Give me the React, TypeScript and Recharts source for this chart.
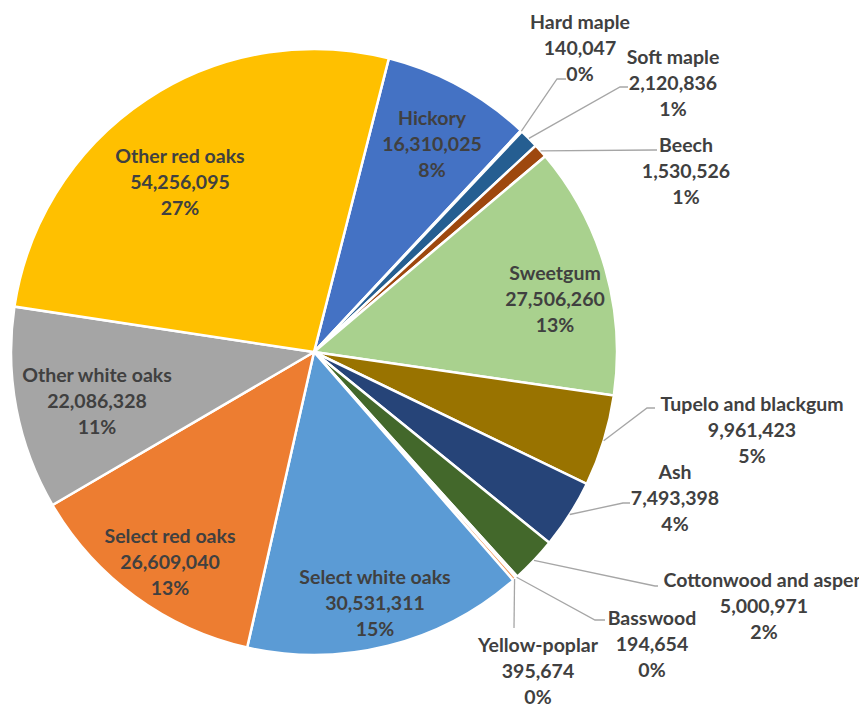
import React from "react";
import { PieChart, Pie, Cell } from "recharts";

const species = [
  "Hickory",
  "Hard maple",
  "Soft maple",
  "Beech",
  "Sweetgum",
  "Tupelo and blackgum",
  "Ash",
  "Cottonwood and aspen",
  "Basswood",
  "Yellow-poplar",
  "Select white oaks",
  "Select red oaks",
  "Other white oaks",
  "Other red oaks",
];

const volumes = [
  16310025, 140047, 2120836, 1530526, 27506260, 9961423, 7493398, 5000971,
  194654, 395674, 30531311, 26609040, 22086328, 54256095,
];

const sliceColors = [
  "#4472C4", "#636363", "#255E91", "#9E480E", "#A9D18E", "#997300", "#264478",
  "#43682B", "#698ED0", "#F1975A", "#5B9BD5", "#ED7D31", "#A5A5A5", "#FFC000",
];

// where each label sits, as offsets of its middle line from the pie centre;
// outside labels also get a leader line through elbow -> end
type Spot = { dx: number; dy: number; elbow?: [number, number]; end?: [number, number] };
const labelSpots: Spot[] = [
  { dx: 118, dy: -209 },
  { dx: 266, dy: -305, elbow: [243, -273], end: [252, -273] },
  { dx: 359, dy: -270, elbow: [306, -265], end: [314, -265] },
  { dx: 372, dy: -182, elbow: [341, -202], end: [343, -202] },
  { dx: 241, dy: -54 },
  { dx: 438, dy: 77, elbow: [333, 56], end: [341, 56] },
  { dx: 361, dy: 145, elbow: [309, 151], end: [316, 151] },
  { dx: 450, dy: 253, elbow: [341, 234], end: [344, 234] },
  { dx: 338, dy: 291, elbow: [281, 268], end: [291, 268] },
  { dx: 224, dy: 318, elbow: [200, 276], end: [200, 276] },
  { dx: 61, dy: 250 },
  { dx: -144, dy: 209 },
  { dx: -217, dy: 48 },
  { dx: -134, dy: -171 },
];

const data = species.map((name, i) => ({ name, value: volumes[i] }));

const RADIAN = Math.PI / 180;
const LINE_GAP = 26;

const renderLabel = (props: any) => {
  const { cx, cy, midAngle, outerRadius, index, percent, value } = props;
  const spot = labelSpots[index];
  const x = cx + spot.dx;
  const y = cy + spot.dy;
  const lines = [species[index], value.toLocaleString("en-US"), `${Math.round(percent * 100)}%`];
  let leader = null;
  if (spot.elbow && spot.end) {
    const sx = cx + outerRadius * Math.cos(-midAngle * RADIAN);
    const sy = cy + outerRadius * Math.sin(-midAngle * RADIAN);
    const pts = [
      [sx, sy],
      [cx + spot.elbow[0], cy + spot.elbow[1]],
      [cx + spot.end[0], cy + spot.end[1]],
    ];
    leader = (
      <polyline
        points={pts.map((p) => p.join(",")).join(" ")}
        fill="none"
        stroke="#A6A6A6"
        strokeWidth={1.3}
      />
    );
  }
  return (
    <g key={`lbl-${index}`}>
      {leader}
      {lines.map((t, k) => (
        <text
          key={k}
          x={x}
          y={y + (k - 1) * LINE_GAP}
          textAnchor="middle"
          dominantBaseline="central"
          fill="#404040"
          fontSize={19.5}
          fontWeight="bold"
          fontFamily="Lato, 'Open Sans', sans-serif"
        >
          {t}
        </text>
      ))}
    </g>
  );
};

const START = 75.7;

export default function App() {
  return (
    <div style={{ width: 859, height: 699 }}>
      <PieChart
        width={859}
        height={699}
        margin={{ top: 0, right: 0, bottom: 0, left: 0 }}
        style={{ overflow: "visible" }}
      >
        <Pie
          data={data}
          dataKey="value"
          nameKey="name"
          cx={306}
          cy={344}
          outerRadius={303}
          startAngle={START}
          endAngle={START - 360}
          stroke="#FFFFFF"
          strokeWidth={2.5}
          label={renderLabel}
          labelLine={false}
          isAnimationActive={false}
        >
          {data.map((d, i) => (
            <Cell key={d.name} fill={sliceColors[i]} />
          ))}
        </Pie>
      </PieChart>
    </div>
  );
}
